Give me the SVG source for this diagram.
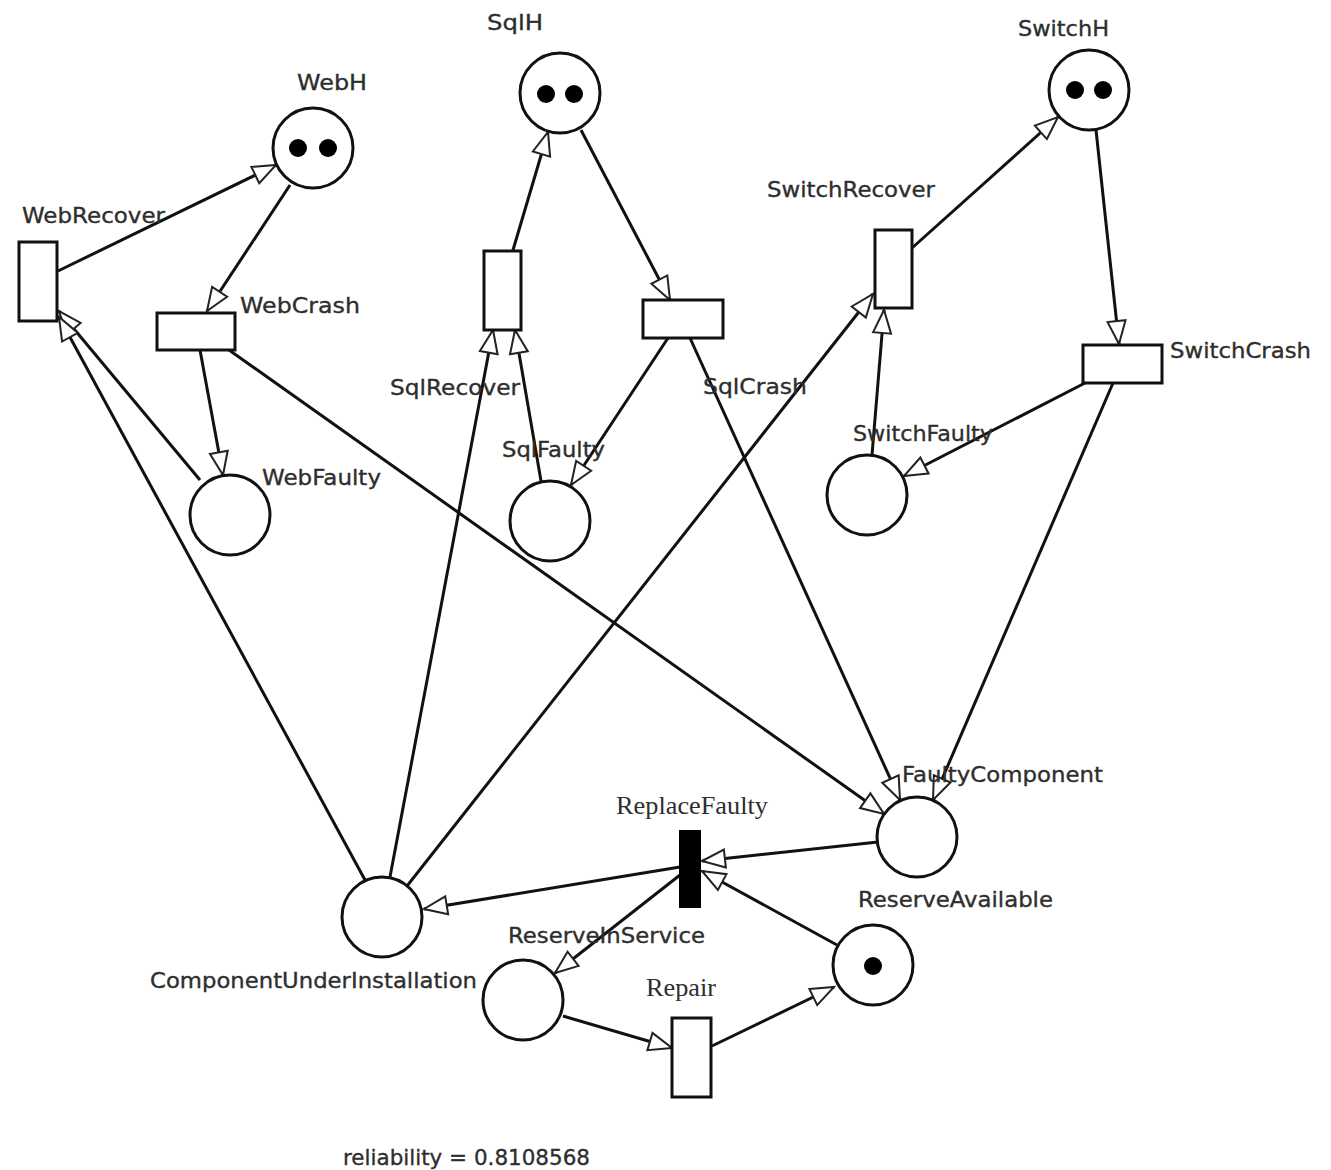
<svg xmlns="http://www.w3.org/2000/svg" width="1331" height="1170" viewBox="0 0 1331 1170">
<style>
.pl{fill:#fff;stroke:#111;stroke-width:3}
.tr{fill:#fff;stroke:#111;stroke-width:3}
.trb{fill:#000;stroke:#000;stroke-width:2}
.tok{fill:#000}
.lb{font-family:"DejaVu Sans","Liberation Sans",sans-serif;font-size:22px;fill:#2e2e2e;stroke:#2e2e2e;stroke-width:0.35}
.ls{font-family:"Liberation Serif","DejaVu Serif",serif;font-size:26px;fill:#2e2e2e}
.arc{fill:none;stroke:#111;stroke-width:3;marker-end:url(#ah)}
</style>
<defs>
<marker id="ah" markerUnits="userSpaceOnUse" markerWidth="28" markerHeight="24" refX="24" refY="10" orient="auto" overflow="visible">
<path d="M1,1 L24,10 L1,19 Z" fill="#fff" stroke="#222" stroke-width="2" stroke-linejoin="miter"/>
</marker>
</defs>
<rect width="1331" height="1170" fill="#fff"/>
<g id="connectors">
<line class="arc" x1="58" y1="271" x2="276" y2="165"/>
<line class="arc" x1="290" y1="185" x2="207" y2="311"/>
<line class="arc" x1="200" y1="350" x2="223" y2="475"/>
<line class="arc" x1="200" y1="480" x2="59" y2="311"/>
<line class="arc" x1="365" y1="880" x2="59" y2="317"/>
<line class="arc" x1="513" y1="250" x2="548" y2="132"/>
<line class="arc" x1="581" y1="130" x2="670" y2="300"/>
<line class="arc" x1="668" y1="338" x2="571" y2="485"/>
<line class="arc" x1="541" y1="481" x2="515" y2="330"/>
<line class="arc" x1="390" y1="877" x2="493" y2="330"/>
<line class="arc" x1="912" y1="248" x2="1058" y2="117"/>
<line class="arc" x1="1096" y1="130" x2="1119" y2="344"/>
<line class="arc" x1="1085" y1="383" x2="904" y2="476"/>
<line class="arc" x1="872" y1="455" x2="884" y2="310"/>
<line class="arc" x1="407" y1="886" x2="873" y2="294"/>
<line class="arc" x1="229" y1="350" x2="884" y2="814"/>
<line class="arc" x1="690" y1="338" x2="900" y2="800"/>
<line class="arc" x1="1113" y1="383" x2="933" y2="800"/>
<line class="arc" x1="878" y1="842" x2="702" y2="861"/>
<line class="arc" x1="680" y1="867" x2="424" y2="909"/>
<line class="arc" x1="680" y1="875" x2="555" y2="973"/>
<line class="arc" x1="837" y1="945" x2="702" y2="871"/>
<line class="arc" x1="563" y1="1016" x2="672" y2="1048"/>
<line class="arc" x1="712" y1="1046" x2="834" y2="987"/>
</g>
<g id="WebH">
<circle class="pl" cx="313" cy="148" r="40"/>
<circle class="tok" cx="298" cy="148" r="9"/><circle class="tok" cx="328" cy="148" r="9"/>
<text class="lb" x="297" y="90" textLength="70" lengthAdjust="spacingAndGlyphs">WebH</text>
</g>
<g id="SqlH">
<circle class="pl" cx="560" cy="93" r="40"/>
<circle class="tok" cx="546" cy="94" r="9"/><circle class="tok" cx="574" cy="94" r="9"/>
<text class="lb" x="487" y="30" textLength="56" lengthAdjust="spacingAndGlyphs">SqlH</text>
</g>
<g id="SwitchH">
<circle class="pl" cx="1089" cy="90" r="40"/>
<circle class="tok" cx="1075" cy="90" r="9"/><circle class="tok" cx="1103" cy="90" r="9"/>
<text class="lb" x="1018" y="36" textLength="91" lengthAdjust="spacingAndGlyphs">SwitchH</text>
</g>
<g id="WebRecover">
<rect class="tr" x="19" y="242" width="38" height="79"/>
<text class="lb" x="22" y="223" textLength="143" lengthAdjust="spacingAndGlyphs">WebRecover</text>
</g>
<g id="WebCrash">
<rect class="tr" x="157" y="313" width="78" height="37"/>
<text class="lb" x="240" y="313" textLength="120" lengthAdjust="spacingAndGlyphs">WebCrash</text>
</g>
<g id="SqlRecover">
<rect class="tr" x="484" y="251" width="37" height="79"/>
<text class="lb" x="390" y="395" textLength="130" lengthAdjust="spacingAndGlyphs">SqlRecover</text>
</g>
<g id="SqlCrash">
<rect class="tr" x="643" y="300" width="80" height="38"/>
<text class="lb" x="703" y="394" textLength="104" lengthAdjust="spacingAndGlyphs">SqlCrash</text>
</g>
<g id="SwitchRecover">
<rect class="tr" x="875" y="230" width="37" height="78"/>
<text class="lb" x="767" y="197" textLength="168" lengthAdjust="spacingAndGlyphs">SwitchRecover</text>
</g>
<g id="SwitchCrash">
<rect class="tr" x="1083" y="345" width="79" height="38"/>
<text class="lb" x="1170" y="358" textLength="141" lengthAdjust="spacingAndGlyphs">SwitchCrash</text>
</g>
<g id="WebFaulty">
<circle class="pl" cx="230" cy="515" r="40"/>
<text class="lb" x="262" y="485" textLength="119" lengthAdjust="spacingAndGlyphs">WebFaulty</text>
</g>
<g id="SqlFaulty">
<circle class="pl" cx="550" cy="521" r="40"/>
<text class="lb" x="502" y="457" textLength="103" lengthAdjust="spacingAndGlyphs">SqlFaulty</text>
</g>
<g id="SwitchFaulty">
<circle class="pl" cx="867" cy="495" r="40"/>
<text class="lb" x="853" y="441" textLength="140" lengthAdjust="spacingAndGlyphs">SwitchFaulty</text>
</g>
<g id="FaultyComponent">
<circle class="pl" cx="917" cy="837" r="40"/>
<text class="lb" x="902" y="782" textLength="201" lengthAdjust="spacingAndGlyphs">FaultyComponent</text>
</g>
<g id="ReplaceFaulty">
<rect class="trb" x="680" y="831" width="20" height="76"/>
<text class="ls" x="616" y="814" textLength="152" lengthAdjust="spacingAndGlyphs">ReplaceFaulty</text>
</g>
<g id="ComponentUnderInstallation">
<circle class="pl" cx="382" cy="917" r="40"/>
<text class="lb" x="150" y="988" textLength="327" lengthAdjust="spacingAndGlyphs">ComponentUnderInstallation</text>
</g>
<g id="ReserveInService">
<circle class="pl" cx="523" cy="1000" r="40"/>
<text class="lb" x="508" y="943" textLength="197" lengthAdjust="spacingAndGlyphs">ReserveInService</text>
</g>
<g id="ReserveAvailable">
<circle class="pl" cx="873" cy="965" r="40"/>
<circle class="tok" cx="873" cy="966" r="9"/>
<text class="lb" x="858" y="907" textLength="195" lengthAdjust="spacingAndGlyphs">ReserveAvailable</text>
</g>
<g id="Repair">
<rect class="tr" x="672" y="1018" width="39" height="79"/>
<text class="ls" x="646" y="996" textLength="70" lengthAdjust="spacingAndGlyphs">Repair</text>
</g>
<g id="reliability">
<text class="lb" x="343" y="1165" textLength="247" lengthAdjust="spacingAndGlyphs">reliability = 0.8108568</text>
</g>
</svg>
